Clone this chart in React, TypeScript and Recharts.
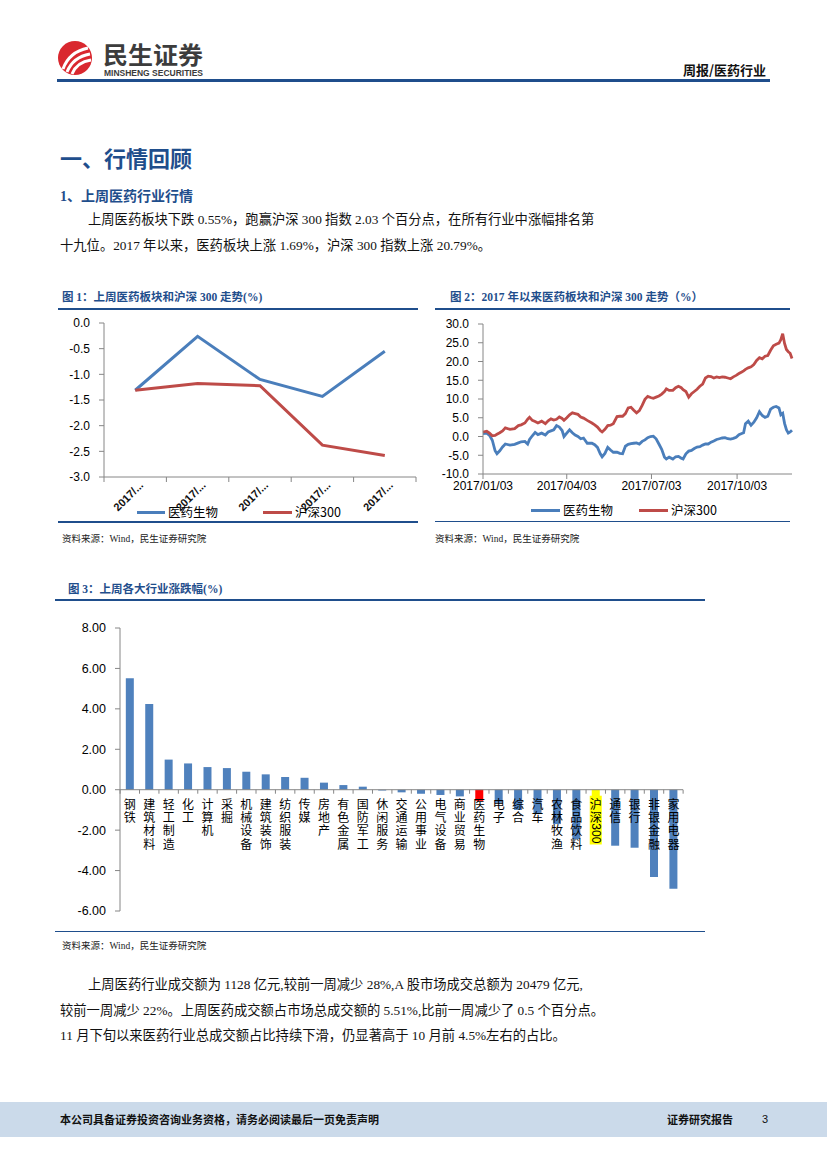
import React from 'react'
import { LineChart, Line, XAxis, YAxis, BarChart, Bar, Cell, ReferenceLine, LabelList } from 'recharts'

// 图1: 上周医药板块和沪深300走势(%)
const WEEK_LABELS = ['2017/...', '2017/...', '2017/...', '2017/...', '2017/...']
const WEEK_PHARMA = [-1.31, -0.26, -1.1, -1.43, -0.55]
const WEEK_HS300 = [-1.31, -1.18, -1.22, -2.38, -2.58]

// 图2: 2017年以来走势, x = days since 2017/01/03
const YTD_START = '2017/01/03'
const YTD_TICK_DATES = ['2017/01/03', '2017/04/03', '2017/07/03', '2017/10/03']
const YTD_DAYS = [
  0, 4, 7, 10, 13, 15, 18, 21, 24, 29, 34, 38, 41, 45, 48, 50, 53, 56, 59, 63,
  67, 70, 73, 76, 79, 82, 85, 87, 90, 93, 96, 99, 102, 105, 108, 112, 117, 120, 123, 126,
  128, 131, 134, 137, 140, 144, 147, 150, 153, 156, 159, 162, 165, 168, 171, 174, 177, 180, 183, 186,
  189, 192, 195, 197, 200, 204, 207, 210, 213, 215, 218, 221, 224, 227, 230, 233, 236, 239, 242, 245,
  248, 251, 254, 257, 260, 263, 266, 269, 272, 275, 278, 280, 282, 285, 288, 291, 294, 297, 300, 303,
  306, 309, 312, 315, 318, 320, 322, 324, 326, 328, 330, 332,
]
const YTD_PHARMA = [
  0.8, 0.9, 0.3, -1.0, -3.8, -4.6, -3.8, -2.8, -2.0, -2.3, -2.1, -1.7, -1.4, -1.3, -2.0, -0.8, 0.2, 1.1, 0.5, 0.9,
  0.4, 1.2, 1.5, 1.8, 2.9, 2.5, 1.6, 0.0, 0.9, 1.8, 1.0, 0.4, 0.0, -0.6, -0.4, -1.8, -1.8, -2.2, -2.9, -4.6,
  -5.4, -4.5, -2.9, -3.6, -4.2, -4.2, -4.5, -4.6, -2.6, -2.1, -1.9, -1.8, -1.7, -2.0, -1.3, -0.9, -0.3, 0.0, 0.1, -0.6,
  -2.0, -3.4, -5.5, -6.0, -5.5, -6.0, -5.4, -5.3, -5.8, -6.0, -4.6, -3.9, -3.7, -3.2, -2.8, -2.7, -2.3, -2.0, -2.0, -1.5,
  -1.2, -0.8, -0.6, -0.4, -0.3, -0.6, -0.7, -0.5, -0.2, 0.5, 0.8, 1.0, 3.4, 4.1, 3.0, 3.8, 5.0, 6.6, 5.6, 5.1,
  5.4, 7.3, 7.8, 8.0, 7.6, 5.8, 6.2, 3.5, 1.8, 0.9, 1.2, 1.69,
]
const YTD_HS300 = [
  1.2, 1.4, 0.9, 0.2, 0.3, 0.6, 1.0, 1.5, 2.3, 1.9, 2.1, 2.9, 3.1, 3.6, 4.6, 5.1, 4.3, 4.0, 3.6, 4.1,
  3.4, 4.2, 4.7, 4.4, 4.6, 5.2, 4.8, 4.3, 5.0, 5.8, 6.3, 6.1, 5.9, 5.2, 4.9, 4.3, 3.6, 3.1, 2.5, 1.6,
  1.2, 1.9, 2.9, 3.0, 3.4, 5.3, 5.4, 5.4, 6.1, 7.6, 7.8, 7.0, 6.3, 6.9, 8.3, 9.9, 10.7, 10.4, 10.2, 10.5,
  10.8, 11.3, 12.0, 12.7, 12.3, 12.3, 13.0, 13.4, 13.0, 12.5, 12.0, 10.5, 11.4, 12.0, 12.6, 13.4, 14.0, 15.6, 16.1, 16.0,
  15.6, 15.9, 15.7, 15.9, 15.8, 15.6, 15.4, 15.9, 16.3, 16.8, 17.2, 17.5, 17.9, 18.3, 18.6, 19.2, 20.3, 21.0, 20.7, 21.4,
  21.6, 23.0, 24.2, 24.6, 24.9, 25.8, 27.4, 24.8, 23.2, 22.6, 22.2, 20.79,
]

// 图3: 上周各大行业涨跌幅(%)
const INDUSTRIES = [
  '钢铁', '建筑材料', '轻工制造', '化工', '计算机', '采掘', '机械设备', '建筑装饰', '纺织服装', '传媒',
  '房地产', '有色金属', '国防军工', '休闲服务', '交通运输', '公用事业', '电气设备', '商业贸易', '医药生物', '电子',
  '综合', '汽车', '农林牧渔', '食品饮料', '沪深300', '通信', '银行', '非银金融', '家用电器',
]
const INDUSTRY_CHANGE = [
  5.51, 4.24, 1.49, 1.3, 1.12, 1.07, 0.89, 0.76, 0.63, 0.59,
  0.35, 0.23, 0.15, -0.04, -0.13, -0.2, -0.26, -0.33, -0.55, -0.65,
  -1.0, -1.15, -1.7, -2.45, -2.58, -2.77, -2.87, -4.32, -4.9,
]
const HIGHLIGHT: Record<string, string> = { 医药生物: '#FF0000', 沪深300: '#FFFF00' }

const BLUE = '#4A7EBB'
const RED = '#BE4B48'
const BAR_BLUE = '#4F81BD'
const AXIS = '#868686'
const NAVY = '#1F4E8C'
const SANS = '"Liberation Sans", "Noto Sans CJK SC", sans-serif'
const CJK = '"Noto Sans CJK SC", sans-serif'
const SERIF = '"Liberation Serif", "Noto Sans CJK SC", serif'

const CH1_W = 362
const CH1_STEP = (CH1_W - 46 - 4) / WEEK_LABELS.length
const CH3_W = 650
const CH3_BAND = (CH3_W - 65 - 22) / INDUSTRIES.length

const dayOf = (s: string) => {
  const [y, m, d] = s.split('/').map(Number)
  const [y0, m0, d0] = YTD_START.split('/').map(Number)
  return Math.round((Date.UTC(y, m - 1, d) - Date.UTC(y0, m0 - 1, d0)) / 86400000)
}

const weekData = WEEK_LABELS.map((label, i) => ({ x: i + 0.5, label, pharma: WEEK_PHARMA[i], hs300: WEEK_HS300[i] }))
const ytdData = YTD_DAYS.map((d, i) => ({ day: d, pharma: YTD_PHARMA[i], hs300: YTD_HS300[i] }))
const ytdTicks = YTD_TICK_DATES.map(dayOf)
const industryData = INDUSTRIES.map((name, i) => ({ name, value: INDUSTRY_CHANGE[i] }))

function WeekTick(props: any) {
  const { x, y, payload } = props
  const i = payload.value
  if (i >= WEEK_LABELS.length) return <g />
  const ax = x + CH1_STEP / 2 + 6
  const ay = y - 1
  return (
    <text x={ax} y={ay} transform={`rotate(-45 ${ax} ${ay})`} textAnchor="end" dominantBaseline="central"
      fontSize={11} fontWeight={700} fontFamily={SANS} fill="#111">
      {WEEK_LABELS[i]}
    </text>
  )
}

function IndustryLabel(props: any) {
  const vb = props.viewBox ?? props
  const { x, y, width, height } = vb
  const v = INDUSTRY_CHANGE[props.index]
  const zero = v >= 0 ? Math.max(y, y + height) : Math.min(y, y + height)
  const cx = x + width / 2
  const name = INDUSTRIES[props.index]
  const fs = 12
  const step = 13.3
  // split into CJK chars and latin runs (latin runs are rotated, like vertical text)
  const parts = name.match(/[\x00-\x7F]+|./g) || []
  let cur = zero + 7
  const els: React.ReactNode[] = []
  parts.forEach((p, k) => {
    if (/^[\x00-\x7F]+$/.test(p)) {
      els.push(
        <text key={k} x={cx} y={cur} transform={`rotate(90 ${cx} ${cur})`} textAnchor="start"
          dominantBaseline="central" fontSize={fs} fontFamily={SANS} fill="#000">{p}</text>
      )
      cur += p.length * fs * 0.56
    } else {
      els.push(
        <text key={k} x={cx} y={cur + step / 2} textAnchor="middle" dominantBaseline="central"
          fontSize={fs} fontFamily={CJK} fill="#000">{p}</text>
      )
      cur += step
    }
  })
  const left = cx - CH3_BAND / 2
  const last = props.index === INDUSTRIES.length - 1
  return (
    <g>
      {HIGHLIGHT[name] === '#FFFF00' && (
        <rect x={cx - 6} y={zero + 6} width={12} height={cur - zero - 5} fill="#FFFF00" />
      )}
      <line x1={left} x2={left} y1={zero} y2={zero + 4} stroke={AXIS} />
      {last && <line x1={left + CH3_BAND} x2={left + CH3_BAND} y1={zero} y2={zero + 4} stroke={AXIS} />}
      {els}
    </g>
  )
}

function LegendItem({ color, label, left, top, seg }: { color: string; label: string; left: number; top: number; seg: number }) {
  return (
    <div style={{ position: 'absolute', left, top: top - 8, height: 16, display: 'flex', alignItems: 'center' }}>
      <div style={{ width: seg, height: 3, background: color, marginRight: 3 }} />
      <span style={{ fontFamily: CJK, fontSize: 12.5, color: '#000', lineHeight: '16px' }}>{label}</span>
    </div>
  )
}

const abs = (left: number, top: number, extra: React.CSSProperties = {}): React.CSSProperties => ({
  position: 'absolute', left, top, whiteSpace: 'nowrap', ...extra,
})

function Text({ left, cy, size, children, style }: { left: number; cy: number; size: number; children: React.ReactNode; style?: React.CSSProperties }) {
  return (
    <div style={abs(left, cy - size * 0.6, { fontSize: size, lineHeight: `${size * 1.2}px`, ...style })}>{children}</div>
  )
}

function Rule({ left, top, width, h = 2 }: { left: number; top: number; width: number; h?: number }) {
  return <div style={abs(left, top, { width, height: h, background: NAVY })} />
}

const titleStyle: React.CSSProperties = { fontFamily: SERIF, fontWeight: 700, color: NAVY }
const bodyStyle: React.CSSProperties = { fontFamily: SERIF, color: '#111' }
const srcStyle: React.CSSProperties = { fontFamily: SERIF, color: '#222' }

export default function App() {
  return (
    <div style={{ position: 'absolute', left: 0, top: 0, width: 827, height: 1169, background: '#fff', overflow: 'hidden' }}>
      {/* header */}
      <svg style={abs(56, 34)} width={160} height={46}>
        <circle cx={19} cy={24} r={17} fill="#D9282F" />
        <path d="M7 35 Q13 18 32 14" stroke="#fff" strokeWidth={3} fill="none" />
        <path d="M11 38 Q17 23 34 20" stroke="#fff" strokeWidth={3} fill="none" />
        <path d="M16 40 Q21 28 35 26" stroke="#fff" strokeWidth={3} fill="none" />
        <text x={47} y={30} fontFamily={CJK} fontWeight={700} fontSize={24} fill="#3C3C3C" textLength={100} lengthAdjust="spacingAndGlyphs">民生证券</text>
        <text x={48} y={42} fontFamily={SANS} fontWeight={700} fontSize={8.5} fill="#3C3C3C" textLength={99} lengthAdjust="spacingAndGlyphs">MINSHENG SECURITIES</text>
      </svg>
      <div style={abs(683, 62, { fontFamily: CJK, fontWeight: 700, fontSize: 13, lineHeight: '16px', color: '#111' })}>周报/医药行业</div>
      <Rule left={57} top={79} width={713} h={2.5} />

      <Text left={60} cy={160} size={22} style={titleStyle}>一、行情回顾</Text>
      <Text left={60} cy={197} size={14} style={titleStyle}>1、上周医药行业行情</Text>
      <Text left={88} cy={220} size={13.3} style={bodyStyle}>上周医药板块下跌 0.55%，跑赢沪深 300 指数 2.03 个百分点，在所有行业中涨幅排名第</Text>
      <Text left={60} cy={246} size={13.3} style={bodyStyle}>十九位。2017 年以来，医药板块上涨 1.69%，沪深 300 指数上涨 20.79%。</Text>

      {/* figure 1 */}
      <Text left={62} cy={298} size={11.5} style={titleStyle}>图 1：上周医药板块和沪深 300 走势(%)</Text>
      <Rule left={58} top={308} width={360} />
      <div style={abs(58, 312)}>
        <LineChart width={CH1_W} height={206} data={weekData} margin={{ top: 11, right: 4, left: 0, bottom: 0 }}>
          <XAxis dataKey="x" type="number" domain={[0, 5]} ticks={[0, 1, 2, 3, 4, 5]} height={41}
            stroke={AXIS} tickSize={5} tick={<WeekTick />} interval={0} />
          <YAxis type="number" domain={[-3, 0]} ticks={[0, -0.5, -1, -1.5, -2, -2.5, -3]} width={46} interval={0}
            stroke={AXIS} tickSize={5} tickMargin={9} tickFormatter={(v: number) => v.toFixed(1)}
            tick={{ fontSize: 12, fill: '#000', fontFamily: SANS }} />
          <Line dataKey="pharma" stroke={BLUE} strokeWidth={3} dot={false} isAnimationActive={false} />
          <Line dataKey="hs300" stroke={RED} strokeWidth={3} dot={false} isAnimationActive={false} />
        </LineChart>
      </div>
      <LegendItem color={BLUE} label="医药生物" left={137} top={512} seg={28} />
      <LegendItem color={RED} label="沪深300" left={263} top={512} seg={29} />
      <Rule left={58} top={521} width={360} h={1.5} />
      <Text left={62} cy={540} size={9.5} style={srcStyle}>资料来源：Wind，民生证券研究院</Text>

      {/* figure 2 */}
      <Text left={450} cy={298} size={11.5} style={titleStyle}>图 2：2017 年以来医药板块和沪深 300 走势（%）</Text>
      <Rule left={435} top={308} width={355} />
      <div style={abs(435, 312)}>
        <LineChart width={360} height={186} data={ytdData} margin={{ top: 12, right: 3, left: 0, bottom: 0 }}>
          <XAxis dataKey="day" type="number" domain={[0, YTD_DAYS[YTD_DAYS.length - 1]]} ticks={ytdTicks} height={24}
            stroke={AXIS} tickSize={5} interval={0}
            tickFormatter={(v: number) => YTD_TICK_DATES[ytdTicks.indexOf(v)]}
            tick={{ fontSize: 12, fill: '#000', fontFamily: SANS }} />
          <YAxis type="number" domain={[-10, 30]} ticks={[30, 25, 20, 15, 10, 5, 0, -5, -10]} width={48} interval={0}
            stroke={AXIS} tickSize={5} tickMargin={9} tickFormatter={(v: number) => v.toFixed(1)}
            tick={{ fontSize: 12, fill: '#000', fontFamily: SANS }} />
          <Line dataKey="pharma" stroke={BLUE} strokeWidth={2.8} dot={false} isAnimationActive={false} />
          <Line dataKey="hs300" stroke={RED} strokeWidth={2.8} dot={false} isAnimationActive={false} />
        </LineChart>
      </div>
      <LegendItem color={BLUE} label="医药生物" left={531} top={510} seg={29} />
      <LegendItem color={RED} label="沪深300" left={639} top={510} seg={29} />
      <Rule left={435} top={521} width={355} h={1} />
      <Text left={435} cy={540} size={9.5} style={srcStyle}>资料来源：Wind，民生证券研究院</Text>

      {/* figure 3 */}
      <Text left={68} cy={590} size={11.5} style={titleStyle}>图 3：上周各大行业涨跌幅(%)</Text>
      <Rule left={55} top={599} width={650} />
      <div style={abs(55, 605)}>
        <BarChart width={CH3_W} height={320} data={industryData} barCategoryGap="30%"
          margin={{ top: 23, right: 22, left: 0, bottom: 14 }}>
          <XAxis dataKey="name" hide />
          <YAxis type="number" domain={[-6, 8]} ticks={[8, 6, 4, 2, 0, -2, -4, -6]} width={65} interval={0}
            stroke={AXIS} tickSize={5} tickMargin={9} tickFormatter={(v: number) => v.toFixed(2)}
            tick={{ fontSize: 12.5, fill: '#000', fontFamily: SANS }} />
          <ReferenceLine y={0} stroke={AXIS} />
          <Bar dataKey="value" isAnimationActive={false}>
            {industryData.map((d) => (
              <Cell key={d.name} fill={HIGHLIGHT[d.name] ?? BAR_BLUE} />
            ))}
            <LabelList dataKey="name" content={<IndustryLabel />} />
          </Bar>
        </BarChart>
      </div>
      <Rule left={55} top={931} width={650} h={1} />
      <Text left={62} cy={947} size={9.5} style={srcStyle}>资料来源：Wind，民生证券研究院</Text>

      <Text left={88} cy={985} size={13.3} style={bodyStyle}>上周医药行业成交额为 1128 亿元,较前一周减少 28%,A 股市场成交总额为 20479 亿元,</Text>
      <Text left={60} cy={1011} size={13.3} style={bodyStyle}>较前一周减少 22%。上周医药成交额占市场总成交额的 5.51%,比前一周减少了 0.5 个百分点。</Text>
      <Text left={60} cy={1036} size={13.3} style={bodyStyle}>11 月下旬以来医药行业总成交额占比持续下滑，仍显著高于 10 月前 4.5%左右的占比。</Text>

      {/* footer */}
      <div style={abs(0, 1102, { width: 827, height: 35, background: '#CBDAEA' })} />
      <Text left={60} cy={1120} size={11} style={{ fontFamily: CJK, fontWeight: 700, color: '#111' }}>本公司具备证券投资咨询业务资格，请务必阅读最后一页免责声明</Text>
      <Text left={667} cy={1120} size={11} style={{ fontFamily: CJK, fontWeight: 700, color: '#111' }}>证券研究报告</Text>
      <Text left={762} cy={1120} size={11} style={{ fontFamily: SANS, color: '#111' }}>3</Text>
    </div>
  )
}
